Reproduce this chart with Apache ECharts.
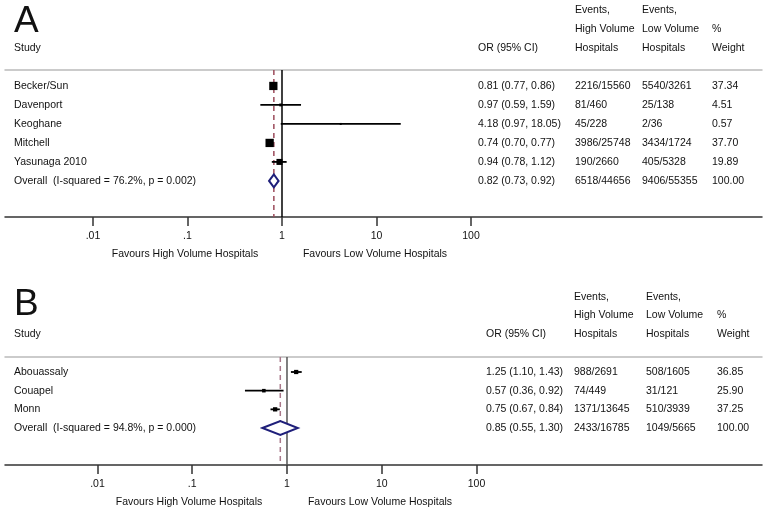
<!DOCTYPE html>
<html><head><meta charset="utf-8">
<script src="https://cdn.jsdelivr.net/npm/echarts@6/dist/echarts.min.js"></script>
<style>html,body{margin:0;padding:0;background:#fff}#c{width:768px;height:512px}</style>
</head><body><div id="c"></div>
<script>
// ---- Panel A data ----
const studiesA = ['Becker/Sun', 'Davenport', 'Keoghane', 'Mitchell', 'Yasunaga 2010', 'Overall  (I-squared = 76.2%, p = 0.002)'];
const orA = [0.81, 0.97, 4.18, 0.74, 0.94, 0.82];
const loA = [0.77, 0.59, 0.97, 0.70, 0.78, 0.73];
const hiA = [0.86, 1.59, 18.05, 0.77, 1.12, 0.92];
const eventsHighA = ['2216/15560', '81/460', '45/228', '3986/25748', '190/2660', '6518/44656'];
const eventsLowA = ['5540/3261', '25/138', '2/36', '3434/1724', '405/5328', '9406/55355'];
const weightA = [37.34, 4.51, 0.57, 37.70, 19.89, 100.00];

// ---- Panel B data ----
const studiesB = ['Abouassaly', 'Couapel', 'Monn', 'Overall  (I-squared = 94.8%, p = 0.000)'];
const orB = [1.25, 0.57, 0.75, 0.85];
const loB = [1.10, 0.36, 0.67, 0.55];
const hiB = [1.43, 0.92, 0.84, 1.30];
const eventsHighB = ['988/2691', '74/449', '1371/13645', '2433/16785'];
const eventsLowB = ['508/1605', '31/121', '510/3939', '1049/5665'];
const weightB = [36.85, 25.90, 37.25, 100.00];

// ---- Axis ticks and text ----
const tickValues = [0.01, 0.1, 1, 10, 100];
const tickLabels = ['.01', '.1', '1', '10', '100'];
const favourLabels = ['Favours High Volume Hospitals', 'Favours Low Volume Hospitals'];
const panelLetters = ['A', 'B'];
const headerStudy = 'Study';
const headerOR = 'OR (95% CI)';
const headerEvHigh = ['Events,', 'High Volume', 'Hospitals'];
const headerEvLow = ['Events,', 'Low Volume', 'Hospitals'];
const headerWeight = ['%', 'Weight'];

const FONT = '"Liberation Sans", Arial, Helvetica, sans-serif';
const FS = 10.5;
const lg = Math.log10;

const panels = [
  {studies: studiesA, or: orA, lo: loA, hi: hiA, evH: eventsHighA, evL: eventsLowA, w: weightA,
   top: 70, bottom: 217, xMin: -2.931, xMax: 5.079, yMin: 0.16, yMax: 7.9,
   cols: [478, 575, 642, 712], headY: [10, 29, 48], letterY: 22, favY: 254, favX: [185, 375],
   sqK: 1.35, vColor: '#000', dashColor: '#9b4a5a', dH: 6.5},
  {studies: studiesB, or: orB, lo: loB, hi: hiB, evH: eventsHighB, evL: eventsLowB, w: weightB,
   top: 357, bottom: 465, xMin: -2.976, xMax: 5.013, yMin: 0.197, yMax: 5.98,
   cols: [486, 574, 646, 717], headY: [297, 315, 334], letterY: 305, favY: 502, favX: [189, 380],
   sqK: 0.7, vColor: '#555', dashColor: '#a9788a', dH: 7}
];

const grid = [], xAxis = [], yAxis = [], series = [], graphic = [];

function txt(x, y, text, size, align) {
  return {type: 'text', x: x, y: y, silent: true,
    style: {text: text, fontSize: size || FS, fontFamily: FONT, fill: '#111',
      align: align || 'left', verticalAlign: 'middle'}};
}

panels.forEach((p, k) => {
  grid.push({left: 5, right: 6, top: p.top, height: p.bottom - p.top});
  const n = p.studies.length;
  // bottom axis
  xAxis.push({type: 'value', gridIndex: k, min: p.xMin, max: p.xMax, position: 'bottom',
    splitLine: {show: false},
    axisLine: {onZero: false, lineStyle: {color: '#333', width: 1.5}},
    axisTick: {show: true, length: 9, lineStyle: {color: '#333', width: 1.5},
      customValues: tickValues.map(lg)},
    axisLabel: {customValues: tickValues.map(lg), margin: 14, fontSize: FS, fontFamily: FONT, color: '#111',
      formatter: v => tickLabels[tickValues.findIndex(t => Math.abs(lg(t) - v) < 1e-6)]}
  });
  // top header line
  xAxis.push({type: 'value', gridIndex: k, min: p.xMin, max: p.xMax, position: 'top',
    splitLine: {show: false}, axisTick: {show: false}, axisLabel: {show: false},
    axisLine: {onZero: false, lineStyle: {color: '#bbb', width: 1.5}}
  });
  yAxis.push({type: 'value', gridIndex: k, inverse: true, min: p.yMin, max: p.yMax, show: false});
  const xi = k * 2;

  // vertical line at OR = 1
  series.push({type: 'line', xAxisIndex: xi, yAxisIndex: k, symbol: 'none', silent: true, z: 2,
    lineStyle: {color: p.vColor, width: 1.5}, data: [[lg(1), p.yMin], [lg(1), p.yMax]]});
  // dashed line at overall OR
  series.push({type: 'line', xAxisIndex: xi, yAxisIndex: k, symbol: 'none', silent: true, z: 1,
    lineStyle: {color: p.dashColor, width: 1.5, type: [5, 4]},
    data: [[lg(p.or[n - 1]), p.yMin], [lg(p.or[n - 1]), p.yMax]]});

  // study CI lines + weighted squares
  const sqK = p.sqK;
  series.push({type: 'custom', xAxisIndex: xi, yAxisIndex: k, z: 3, silent: true,
    data: p.studies.slice(0, n - 1).map((s, i) => [lg(p.lo[i]), lg(p.hi[i]), lg(p.or[i]), i + 1, p.w[i]]),
    renderItem: (params, api) => {
      const a = api.coord([api.value(0), api.value(3)]);
      const b = api.coord([api.value(1), api.value(3)]);
      const c = api.coord([api.value(2), api.value(3)]);
      const s = Math.max(2, Math.sqrt(api.value(4)) * sqK);
      return {type: 'group', children: [
        {type: 'line', shape: {x1: a[0], y1: a[1], x2: b[0], y2: b[1]}, style: {stroke: '#000', lineWidth: 1.8}},
        {type: 'rect', shape: {x: c[0] - s / 2, y: c[1] - s / 2, width: s, height: s}, style: {fill: '#000'}}
      ]};
    }});

  // overall diamond
  const dH = p.dH;
  series.push({type: 'custom', xAxisIndex: xi, yAxisIndex: k, z: 3, silent: true,
    data: [[lg(p.lo[n - 1]), lg(p.or[n - 1]), lg(p.hi[n - 1]), n]],
    renderItem: (params, api) => {
      const l = api.coord([api.value(0), api.value(3)]);
      const m = api.coord([api.value(1), api.value(3)]);
      const r = api.coord([api.value(2), api.value(3)]);
      return {type: 'polygon', shape: {points: [[l[0], l[1]], [m[0], m[1] - dH], [r[0], r[1]], [m[0], m[1] + dH]]},
        style: {fill: '#fff', stroke: '#1f1f7a', lineWidth: 2}};
    }});

  // table text per row
  const cols = p.cols;
  series.push({type: 'custom', xAxisIndex: xi, yAxisIndex: k, z: 4, silent: true, clip: false,
    data: p.studies.map((s, i) => [0, i + 1]),
    renderItem: (params, api) => {
      const i = params.dataIndex;
      const y = api.coord([0, api.value(1)])[1];
      const orTxt = p.or[i].toFixed(2) + ' (' + p.lo[i].toFixed(2) + ', ' + p.hi[i].toFixed(2) + ')';
      return {type: 'group', children: [
        txt(14, y, p.studies[i]),
        txt(cols[0], y, orTxt),
        txt(cols[1], y, p.evH[i]),
        txt(cols[2], y, p.evL[i]),
        txt(cols[3], y, p.w[i].toFixed(2))
      ]};
    }});

  // headers
  graphic.push(txt(14, p.letterY, panelLetters[k], 37));
  graphic.push(txt(14, p.headY[2], headerStudy));
  graphic.push(txt(cols[0], p.headY[2], headerOR));
  headerEvHigh.forEach((t, j) => graphic.push(txt(cols[1], p.headY[j], t)));
  headerEvLow.forEach((t, j) => graphic.push(txt(cols[2], p.headY[j], t)));
  headerWeight.forEach((t, j) => graphic.push(txt(cols[3], p.headY[j + 1], t)));
  graphic.push(txt(p.favX[0], p.favY, favourLabels[0], FS, 'center'));
  graphic.push(txt(p.favX[1], p.favY, favourLabels[1], FS, 'center'));
});

const chart = echarts.init(document.getElementById('c'));
chart.setOption({animation: false, backgroundColor: '#fff', grid, xAxis, yAxis, series, graphic});
</script></body></html>
